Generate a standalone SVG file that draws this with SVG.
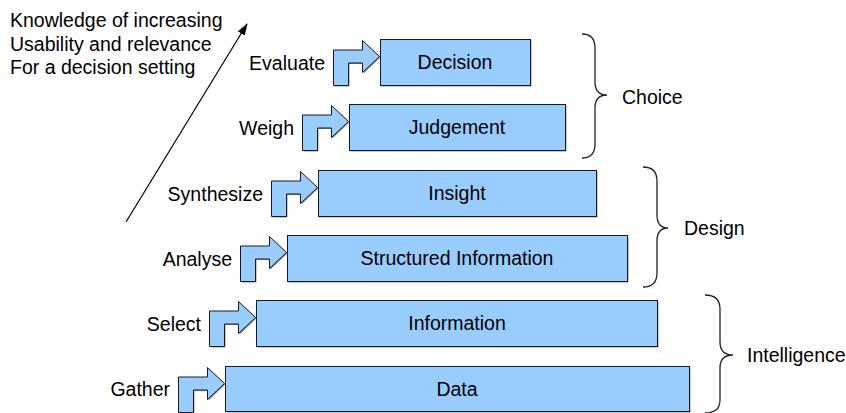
<svg xmlns="http://www.w3.org/2000/svg" xmlns:xlink="http://www.w3.org/1999/xlink" width="846" height="413" viewBox="0 0 846 413">
  <style>
    text { font-family: "Liberation Sans", Arial, sans-serif; font-size: 19.5px; fill: #000; }
    .lbl { text-anchor: end; }
    .mid { text-anchor: middle; }
    .box { fill: #99ccff; stroke: #1a1a1a; stroke-width: 1; }
    .shadow { fill: #8c9199; }
    .brace { fill: none; stroke: #222; stroke-width: 1.3; }
    .axis { stroke: #000; stroke-width: 1.2; fill: none; }
  </style>
  <defs>
    <!-- bent step arrow, origin at the top-left corner of the box it feeds -->
    <path id="bent" d="M-47,46 L-47,10.5 L-18,10.5 L-18,1 L-1,17 L-18,33 L-18,23.5 L-32,23.5 L-32,46 Z"/>
    <marker id="head" viewBox="0 0 12 8" refX="11" refY="4" markerWidth="12" markerHeight="8" markerUnits="userSpaceOnUse" orient="auto">
      <path d="M0,0 L12,4 L0,8 Z" fill="#000"/>
    </marker>
  </defs>

  <!-- rising knowledge axis -->
  <g id="axis">
    <text x="10" y="27">Knowledge of increasing</text>
    <text x="10" y="51">Usability and relevance</text>
    <text x="10" y="74">For a decision setting</text>
  </g>

  <g id="connectors">
    <line class="axis" x1="126" y1="222" x2="247" y2="24" marker-end="url(#head)"/>
  </g>

  <g id="decision">
    <text class="lbl" x="325" y="70">Evaluate</text>
    <use xlink:href="#bent" transform="translate(381.5,40.5)" class="shadow"/>
    <use xlink:href="#bent" transform="translate(380.5,39.5)" class="box"/>
    <rect x="381.5" y="40.5" width="150" height="46" class="shadow"/>
    <rect x="380.5" y="39.5" width="150" height="46" class="box"/>
    <text class="mid" x="455" y="69">Decision</text>
  </g>

  <g id="judgement">
    <text class="lbl" x="294" y="135">Weigh</text>
    <use xlink:href="#bent" transform="translate(350.5,105.5)" class="shadow"/>
    <use xlink:href="#bent" transform="translate(349.5,104.5)" class="box"/>
    <rect x="350.5" y="105.5" width="216" height="46" class="shadow"/>
    <rect x="349.5" y="104.5" width="216" height="46" class="box"/>
    <text class="mid" x="457" y="134">Judgement</text>
  </g>

  <g id="insight">
    <text class="lbl" x="263" y="201">Synthesize</text>
    <use xlink:href="#bent" transform="translate(319.5,171.5)" class="shadow"/>
    <use xlink:href="#bent" transform="translate(318.5,170.5)" class="box"/>
    <rect x="319.5" y="171.5" width="278" height="46" class="shadow"/>
    <rect x="318.5" y="170.5" width="278" height="46" class="box"/>
    <text class="mid" x="457" y="200">Insight</text>
  </g>

  <g id="structured-information">
    <text class="lbl" x="232" y="266">Analyse</text>
    <use xlink:href="#bent" transform="translate(288.5,236.5)" class="shadow"/>
    <use xlink:href="#bent" transform="translate(287.5,235.5)" class="box"/>
    <rect x="288.5" y="236.5" width="340" height="46" class="shadow"/>
    <rect x="287.5" y="235.5" width="340" height="46" class="box"/>
    <text class="mid" x="457" y="265">Structured Information</text>
  </g>

  <g id="information">
    <text class="lbl" x="201" y="331">Select</text>
    <use xlink:href="#bent" transform="translate(257.5,301.5)" class="shadow"/>
    <use xlink:href="#bent" transform="translate(256.5,300.5)" class="box"/>
    <rect x="257.5" y="301.5" width="401" height="46" class="shadow"/>
    <rect x="256.5" y="300.5" width="401" height="46" class="box"/>
    <text class="mid" x="457" y="330">Information</text>
  </g>

  <g id="data">
    <text class="lbl" x="170" y="396">Gather</text>
    <use xlink:href="#bent" transform="translate(226.5,367.5)" class="shadow"/>
    <use xlink:href="#bent" transform="translate(225.5,366.5)" class="box"/>
    <rect x="226.5" y="367.5" width="464" height="45" class="shadow"/>
    <rect x="225.5" y="366.5" width="464" height="45" class="box"/>
    <text class="mid" x="457" y="396">Data</text>
  </g>

  <!-- phase braces -->
  <g id="choice">
    <path class="brace" d="M582,34 Q595,34 595,48 L595,82 Q595,95 607,95 Q595,95 595,108 L595,144 Q595,158 582,158"/>
    <text x="622" y="104">Choice</text>
  </g>
  <g id="design">
    <path class="brace" d="M643,167 Q657,167 657,181 L657,215 Q657,228 668,228 Q657,228 657,241 L657,273 Q657,287 643,287"/>
    <text x="684" y="235">Design</text>
  </g>
  <g id="intelligence">
    <path class="brace" d="M705,295 Q720,295 720,309 L720,342 Q720,355 733,355 Q720,355 720,368 L720,400 Q720,413 705,413"/>
    <text x="747" y="362">Intelligence</text>
  </g>
</svg>
